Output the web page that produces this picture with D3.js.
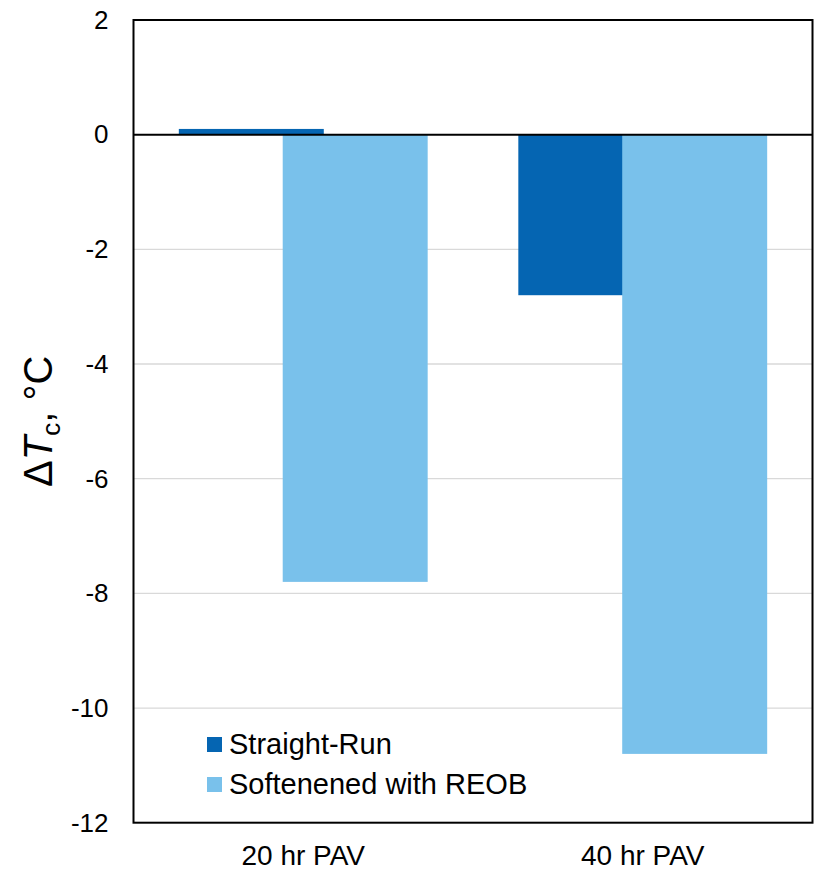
<!DOCTYPE html>
<html>
<head>
<meta charset="utf-8">
<script src="https://cdn.jsdelivr.net/npm/d3@7/dist/d3.min.js"></script>
<style>
  html, body { margin: 0; padding: 0; background: #fff; }
  svg { display: block; font-family: Arial, "Liberation Sans", sans-serif; }
</style>
</head>
<body>
<svg id="chart" width="817" height="871"></svg>
<script>
// Categories, series and values
const categories = ["20 hr PAV", "40 hr PAV"];
const seriesNames = ["Straight-Run", "Softenened with REOB"];
const straightRun = [0.1, -2.8];
const softenedREOB = [-7.8, -10.8];
const yTicks = [2, 0, -2, -4, -6, -8, -10, -12];
const seriesColors = ["#0565B2", "#79C1EB"];

const svg = d3.select("#chart");
const margin = { left: 133.5, top: 20, right: 4.5, bottom: 48.3 };
const W = 817 - margin.left - margin.right;
const H = 871 - margin.top - margin.bottom;
const g = svg.append("g").attr("transform", `translate(${margin.left},${margin.top})`);

const x = d3.scaleBand().domain(categories).range([0, W]).padding(0);
const y = d3.scaleLinear().domain([-12, 2]).range([H, 0]);

// gridlines
g.append("g").selectAll("line").data(yTicks.filter(t => t !== 0 && t !== 2 && t !== -12))
  .join("line")
  .attr("x1", 0).attr("x2", W)
  .attr("y1", d => y(d)).attr("y2", d => y(d))
  .attr("stroke", "#d9d9d9").attr("stroke-width", 1.3);

// bars: each category holds two overlapping bars
const barW = x.bandwidth() * 0.427;
const gap = x.bandwidth() * 0.306;
const seriesData = [straightRun, softenedREOB];
seriesData.forEach((vals, si) => {
  g.append("g").selectAll("rect").data(categories.map((c, i) => ({ c, v: vals[i] })))
    .join("rect")
    .attr("x", d => x(d.c) + x.bandwidth() / 2 + (si - 0.5) * gap - barW / 2)
    .attr("width", barW)
    .attr("y", d => y(Math.max(0, d.v)))
    .attr("height", d => Math.abs(y(d.v) - y(0)))
    .attr("fill", seriesColors[si]);
});

// zero line
g.append("line").attr("x1", 0).attr("x2", W).attr("y1", y(0)).attr("y2", y(0))
  .attr("stroke", "#000").attr("stroke-width", 2);

// plot frame
g.append("rect").attr("x", 0).attr("y", 0).attr("width", W).attr("height", H)
  .attr("fill", "none").attr("stroke", "#000").attr("stroke-width", 2);

// y axis labels
const yAxis = d3.axisLeft(y).tickValues(yTicks).tickSize(0).tickPadding(25)
  .tickFormat(d => d < 0 ? "-" + Math.abs(d) : String(d));
const ya = g.append("g").call(yAxis);
ya.select(".domain").remove();
ya.selectAll("text").attr("font-size", 26).attr("fill", "#000")
  .attr("font-family", "Arial, 'Liberation Sans', sans-serif");

// x axis labels
const xAxis = d3.axisBottom(x).tickSize(0).tickPadding(22);
const xa = g.append("g").attr("transform", `translate(0,${H})`).call(xAxis);
xa.select(".domain").remove();
xa.selectAll("text").attr("font-size", 28).attr("fill", "#000")
  .attr("font-family", "Arial, 'Liberation Sans', sans-serif");

// y axis title
const title = svg.append("text")
  .attr("transform", `translate(52,${margin.top + H / 2}) rotate(-90)`)
  .attr("text-anchor", "middle")
  .attr("font-size", 40).attr("fill", "#000");
title.append("tspan").text("\u0394");
title.append("tspan").attr("font-style", "italic").text("T");
title.append("tspan").attr("font-size", 26).attr("dy", 8).text("c");
title.append("tspan").attr("dy", -8).text(", \u00B0C");

// legend
const legend = svg.append("g").attr("transform", "translate(207,737)");
seriesNames.forEach((name, i) => {
  const row = legend.append("g").attr("transform", `translate(0,${i * 40})`);
  row.append("rect").attr("width", 15).attr("height", 15).attr("fill", seriesColors[i]);
  row.append("text").attr("x", 22).attr("y", 17).attr("font-size", 29).attr("fill", "#000").text(name);
});
</script>
</body>
</html>
